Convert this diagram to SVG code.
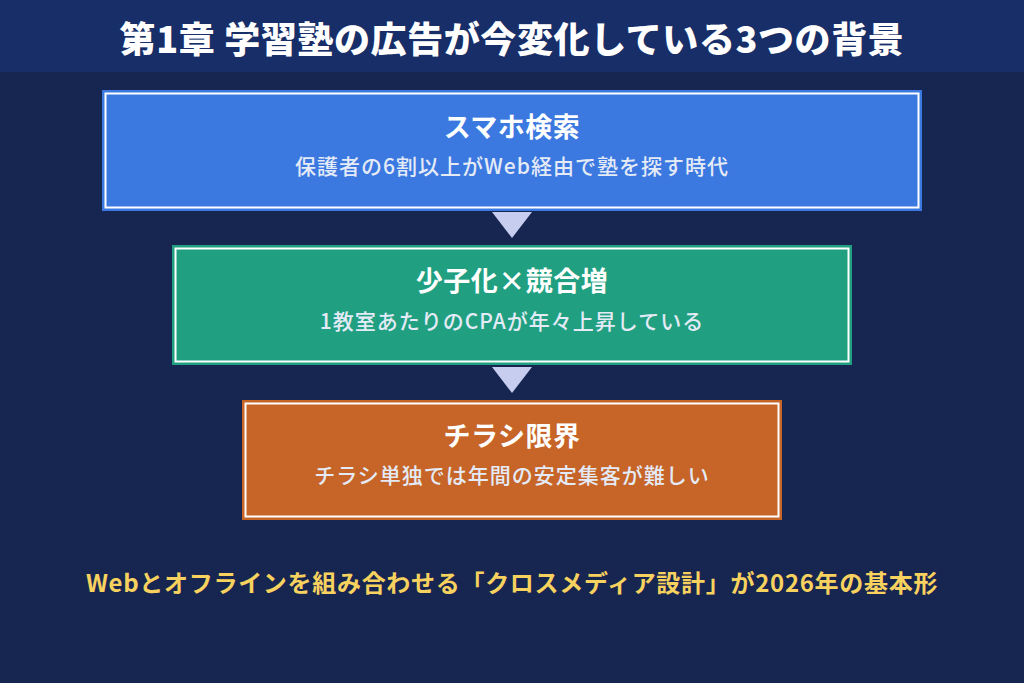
<svg xmlns="http://www.w3.org/2000/svg" width="1024" height="683" viewBox="0 0 1024 683">
<style>
.t{font-family:"Noto Sans CJK JP","Noto Sans",sans-serif;text-anchor:middle}
.title{font-size:36px;font-weight:900;fill:#ffffff;letter-spacing:0.6px}
.h{font-size:27px;font-weight:700;fill:#ffffff;letter-spacing:0.5px}
.s{font-size:21px;font-weight:500;fill:#e4ebf7;letter-spacing:1px}
.foot{font-size:24px;font-weight:700;fill:#f7d25e;letter-spacing:0.7px}
.inner{fill:none;stroke:#ffffff;stroke-width:2}
.arrow{fill:#c6cdef}
</style>
<rect x="0" y="0" width="1024" height="683" fill="#172551"/>
<rect x="0" y="0" width="1024" height="72" fill="#172e68"/>
<text class="t title" x="512" y="53">第1章 学習塾の広告が今変化している3つの背景</text>
<g id="node1">
<rect x="102" y="90" width="820" height="121" fill="#3b78e0"/>
<rect class="inner" x="105.5" y="93.5" width="813" height="114"/>
<text class="t h" x="512" y="137">スマホ検索</text>
<text class="t s" x="512" y="174">保護者の6割以上がWeb経由で塾を探す時代</text>
</g>
<g id="node2">
<rect x="172" y="245" width="680" height="120" fill="#20a081"/>
<rect class="inner" x="175.5" y="248.5" width="673" height="113"/>
<text class="t h" x="512" y="291">少子化×競合増</text>
<text class="t s" x="512" y="329">1教室あたりのCPAが年々上昇している</text>
</g>
<g id="node3">
<rect x="242" y="400" width="540" height="120" fill="#c76428"/>
<rect class="inner" x="245.5" y="403.5" width="533" height="113"/>
<text class="t h" x="512" y="446">チラシ限界</text>
<text class="t s" x="512" y="483">チラシ単独では年間の安定集客が難しい</text>
</g>
<g id="connectors">
<polygon class="arrow" points="492,212 532,212 512,238"/>
<polygon class="arrow" points="492,367 532,367 512,393"/>
</g>
<text class="t foot" x="512" y="592">Webとオフラインを組み合わせる「クロスメディア設計」が2026年の基本形</text>
</svg>
